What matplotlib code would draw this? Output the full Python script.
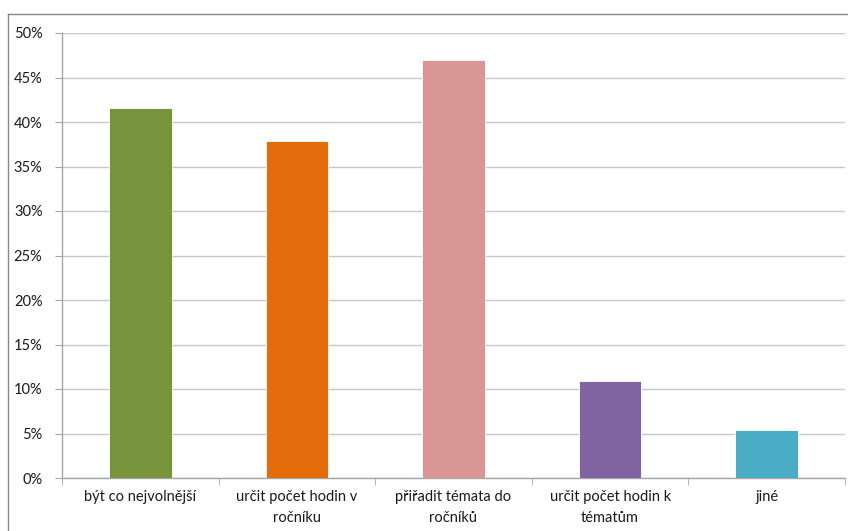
import matplotlib.pyplot as plt
from matplotlib.lines import Line2D
from matplotlib.ticker import FuncFormatter, MultipleLocator

categories = ["být co nejvolnější", "určit počet hodin v\nročníku",
              "přiřadit témata do\nročníků", "určit počet hodin k\ntématům", "jiné"]
values = [41.6, 37.9, 47.0, 10.9, 5.4]
colors = ["#77933C", "#E46C0A", "#D99694", "#8064A2", "#4BACC6"]

plt.rcParams['font.family'] = ['Lato', 'DejaVu Sans']

W, H = 848, 531
fig = plt.figure(figsize=(W / 100, H / 100), dpi=100)
# plot area in pixel coords: left 62, right 845, top 33, bottom 478
ax = fig.add_axes([62 / W, 1 - 478 / H, (845 - 62) / W, (478 - 33) / H])

x = range(len(categories))
ax.bar(x, values, width=0.4, color=colors, edgecolor='white', linewidth=0.6, zorder=3)

ax.set_xlim(-0.5, len(categories) - 0.5)
ax.set_ylim(0, 50)
ax.yaxis.set_major_locator(MultipleLocator(5))
ax.yaxis.set_major_formatter(FuncFormatter(lambda v, p: f"{v:.0f}%"))
ax.grid(axis='y', color='#c8c8c8', linewidth=1, zorder=0)

for s in ['top', 'right']:
    ax.spines[s].set_visible(False)
for s in ['left', 'bottom']:
    ax.spines[s].set_color('#a6a6a6')
    ax.spines[s].set_linewidth(1)

ax.set_xticks([i + 0.5 for i in range(-1, len(categories))], minor=True)
ax.set_xticks(list(x))
ax.set_xticklabels(categories, fontsize=10.5, color='#1a1a1a', linespacing=1.55)
ax.tick_params(axis='x', which='major', length=0, pad=9)
ax.tick_params(axis='x', which='minor', length=5, color='#a6a6a6', direction='out')
ax.tick_params(axis='y', length=5, color='#a6a6a6', labelsize=10.5, labelcolor='#1a1a1a', pad=9)

# outer chart border
fig.add_artist(Line2D([8 / W, 8 / W], [0, 1 - 14 / H], color='#888888', linewidth=1))
fig.add_artist(Line2D([8 / W, 1], [1 - 14 / H, 1 - 14 / H], color='#888888', linewidth=1))

fig.savefig('out.png', dpi=100)
